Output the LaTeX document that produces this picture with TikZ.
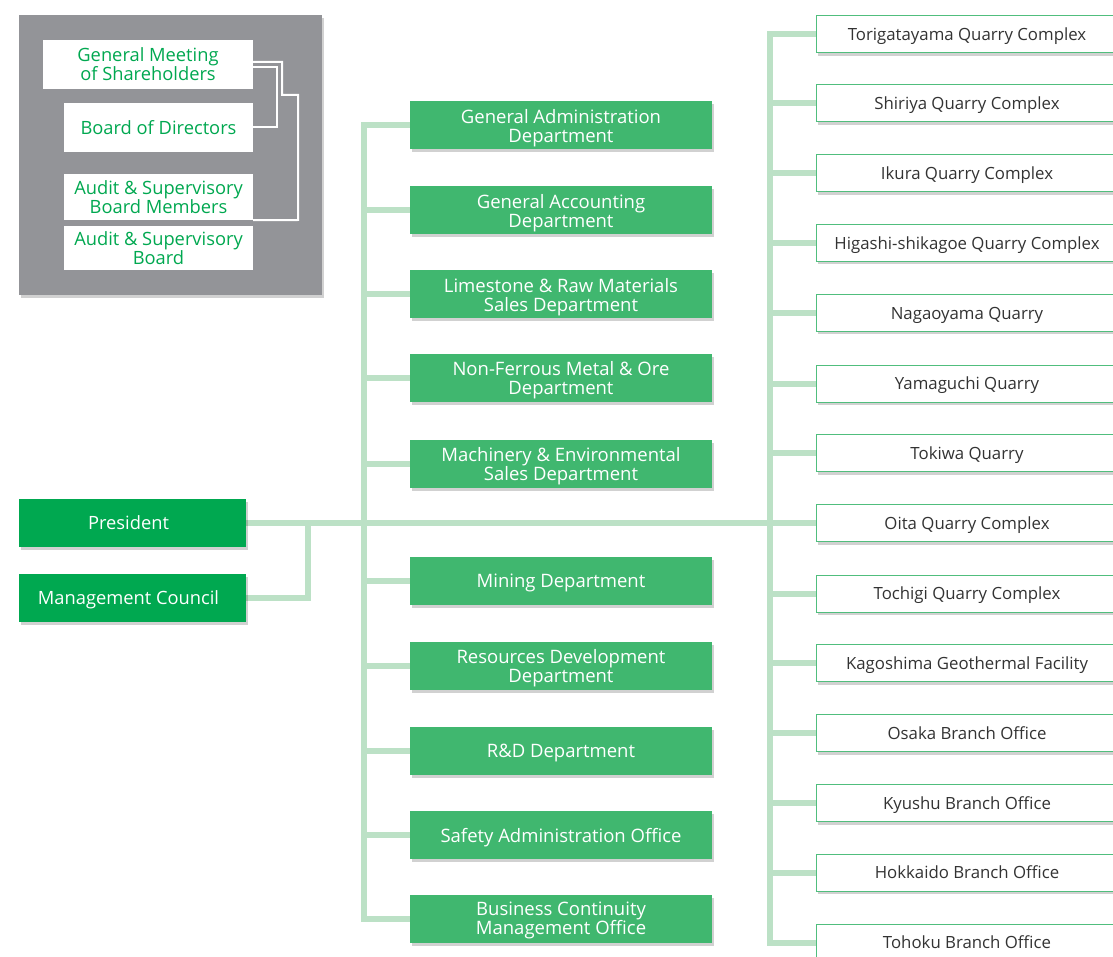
\documentclass[tikz,border=0pt]{standalone}
\usepackage{fontspec}
\setmainfont{Open Sans}
\usetikzlibrary{shadows,calc}
\definecolor{presgreen}{RGB}{0,168,80}
\definecolor{deptgreen}{RGB}{64,183,111}
\definecolor{linegreen}{RGB}{188,225,198}
\definecolor{qborder}{RGB}{80,190,125}
\definecolor{boxgray}{RGB}{147,148,152}
\definecolor{qtext}{RGB}{51,51,51}
\pgfdeclarelayer{bg}
\pgfsetlayers{bg,main}
\tikzset{
  sh/.style={drop shadow={shadow xshift=2pt,shadow yshift=-3pt,opacity=0.18,fill=black}},
  graybox/.style={fill=boxgray,draw=none,sh},
  wbox/.style={fill=white,draw=none,text=presgreen,align=center,inner sep=0pt,text depth=0pt,
    font=\fontsize{18.3}{19}\selectfont},
  presbox/.style={fill=presgreen,draw=none,text=white,minimum width=227pt,minimum height=48pt,
    inner sep=0pt,text depth=0pt,font=\fontsize{18.3}{19}\selectfont,sh},
  deptbox/.style={fill=deptgreen,draw=none,text=white,align=center,minimum width=302pt,
    minimum height=48pt,inner sep=0pt,text depth=0pt,font=\fontsize{18.5}{19}\selectfont,sh},
  qbox/.style={fill=white,draw=qborder,line width=1pt,text=qtext,minimum width=302pt,
    minimum height=37pt,inner sep=0pt,text depth=0pt,font=\fontsize{16.8}{19}\selectfont,sh},
  conn/.style={draw=linegreen,line width=6pt},
  wline/.style={draw=white,line width=2pt},
}
\begin{document}
\begin{tikzpicture}[x=1pt,y=-1pt]
\useasboundingbox (0,0) rectangle (1113,957);
\clip (0,0) rectangle (1113,957);
% gray panel
\node[graybox,minimum width=303pt,minimum height=280pt,inner sep=0pt] (panel) at (170.5,155) {};
\node[wbox,minimum width=210pt,minimum height=49pt] (gm) at (148,64.5) {General Meeting\\of Shareholders};
\node[wbox,minimum width=189pt,minimum height=49pt] (bod) at (158.5,127.5) {Board of Directors};
\node[wbox,minimum width=189pt,minimum height=46pt] (am) at (158.5,197) {Audit \& Supervisory\\Board Members};
\node[wbox,minimum width=189pt,minimum height=44pt] (ab) at (158.5,248) {Audit \& Supervisory\\Board};
\coordinate (wo1) at (282,95);
\coordinate (wo2) at (298,220);
\coordinate (wi) at (277,0);
\draw[wline] ([yshift=2.5pt]gm.east) -| (wo1) -| (wo2) -- (am.south east);
\draw[wline] ([yshift=-2.5pt]gm.east) -| (wi |- bod.east) -- (bod.east);
% trunk coordinates
\coordinate (xl) at (364,0);
\coordinate (xr) at (770,0);
\coordinate (xm) at (308,0);
% dept boxes
\node[deptbox] (ga) at (561,125.5) {General Administration\\Department};
\node[deptbox] (gacc) at (561,210.5) {General Accounting\\Department};
\node[deptbox] (lime) at (561,294.5) {Limestone \& Raw Materials\\Sales Department};
\node[deptbox] (nfm) at (561,378) {Non-Ferrous Metal \& Ore\\Department};
\node[deptbox] (mach) at (561,463.5) {Machinery \& Environmental\\Sales Department};
\node[deptbox] (mine) at (561,581) {Mining Department};
\node[deptbox] (res) at (561,666) {Resources Development\\Department};
\node[deptbox] (rd) at (561,751) {R\&D Department};
\node[deptbox] (safe) at (561,835) {Safety Administration Office};
\node[deptbox] (bcm) at (561,918.5) {Business Continuity\\Management Office};
% quarry boxes
\node[qbox] (q1) at (967,34.5) {Torigatayama Quarry Complex};
\node[qbox] (q2) at (967,103.5) {Shiriya Quarry Complex};
\node[qbox] (q3) at (967,173.5) {Ikura Quarry Complex};
\node[qbox] (q4) at (967,243) {Higashi-shikagoe Quarry Complex};
\node[qbox] (q5) at (967,313) {Nagaoyama Quarry};
\node[qbox] (q6) at (967,383.5) {Yamaguchi Quarry};
\node[qbox] (q7) at (967,453) {Tokiwa Quarry};
\node[qbox] (q8) at (967,523) {Oita Quarry Complex};
\node[qbox] (q9) at (967,593.5) {Tochigi Quarry Complex};
\node[qbox] (q10) at (967,663) {Kagoshima Geothermal Facility};
\node[qbox] (q11) at (967,733) {Osaka Branch Office};
\node[qbox] (q12) at (967,803) {Kyushu Branch Office};
\node[qbox] (q13) at (967,872.5) {Hokkaido Branch Office};
\node[qbox] (q14) at (967,942.5) {Tohoku Branch Office};
% president
\node[presbox] (pres) at (132.5,523) {\hspace*{-8pt}President};
\node[presbox] (mc) at (132.5,598) {\hspace*{-8pt}Management Council};
% connectors
\begin{pgfonlayer}{bg}
\draw[conn] (ga.west) -| (xl |- bcm.west) -- (bcm.west);
\foreach \n in {gacc,lime,nfm,mach,mine,res,rd,safe}
  \draw[conn] (xl |- \n.west) -- (\n.west);
\draw[conn] (q1.west) -| (xr |- q14.west) -- (q14.west);
\foreach \n in {q2,q3,q4,q5,q6,q7,q8,q9,q10,q11,q12,q13}
  \draw[conn] (xr |- \n.west) -- (\n.west);
\draw[conn] (pres.east) -- (q8.west);
\draw[conn] (mc.east) -| (xm |- pres.east);
\end{pgfonlayer}
\end{tikzpicture}
\end{document}
